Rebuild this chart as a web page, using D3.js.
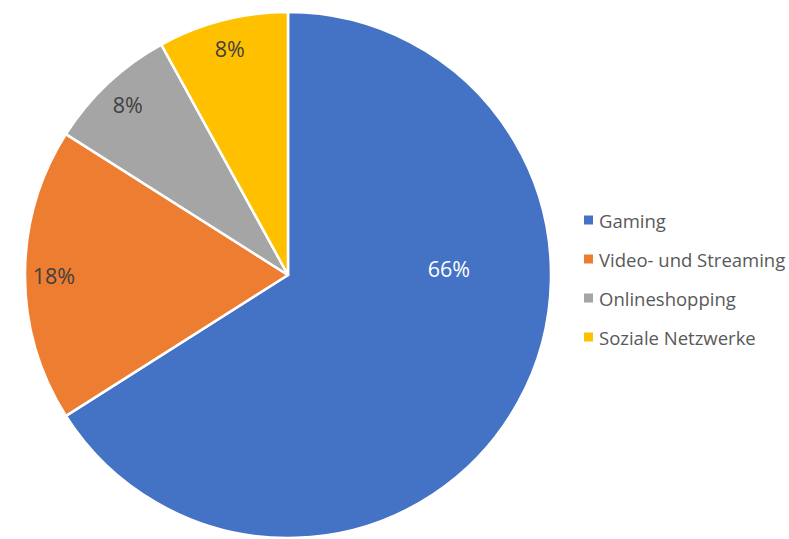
<!DOCTYPE html>
<html>
<head>
<meta charset="utf-8">
<script src="https://cdn.jsdelivr.net/npm/d3@7"></script>
<style>
  body { margin: 0; background: #fff; }
  svg { display: block; font-family: "Open Sans", "Liberation Sans", sans-serif; }
</style>
</head>
<body>
<svg id="chart" width="789" height="539"></svg>
<script>
const categories = ["Gaming", "Video- und Streaming", "Onlineshopping", "Soziale Netzwerke"];
const values = [66, 18, 8, 8];
const labels = ["66%", "18%", "8%", "8%"];
const colors = ["#4472C4", "#ED7D31", "#A5A5A5", "#FFC000"];

const svg = d3.select("#chart");
const cx = 288, cy = 275, radius = 263;

const pie = d3.pie().sort(null).value(d => d.value);
const arcs = pie(categories.map((c, i) => ({ name: c, value: values[i], i })));

const arc = d3.arc().innerRadius(0).outerRadius(radius);

const g = svg.append("g").attr("transform", `translate(${cx},${cy})`);

g.selectAll("path")
  .data(arcs)
  .enter().append("path")
  .attr("d", arc)
  .attr("fill", d => colors[d.data.i])
  .attr("stroke", "#fff")
  .attr("stroke-width", 2.5)
  .attr("stroke-linejoin", "round");

// Beschriftung: kleine Segmente am Rand innen, großes Segment wie Excel "beste Anpassung"
function labelPos(d) {
  if (d.data.i === 0) {
    const a = Math.PI * 0.487;
    const r = radius * 0.612;
    return [Math.sin(a) * r, -Math.cos(a) * r];
  }
  const a = (d.startAngle + d.endAngle) / 2;
  const r = radius * 0.89;
  return [Math.sin(a) * r, -Math.cos(a) * r];
}

g.selectAll("text.label")
  .data(arcs)
  .enter().append("text")
  .attr("class", "label")
  .attr("x", d => labelPos(d)[0])
  .attr("y", d => labelPos(d)[1])
  .attr("text-anchor", "middle")
  .attr("dominant-baseline", "central")
  .attr("font-size", 21.5)
  .attr("fill", d => d.data.i === 0 ? "#fff" : "#404040")
  .text(d => labels[d.data.i]);

// Legende
const legend = svg.append("g").attr("transform", "translate(584,220)");
const item = legend.selectAll("g")
  .data(categories)
  .enter().append("g")
  .attr("transform", (d, i) => `translate(0,${i * 39})`);

item.append("rect")
  .attr("x", 0).attr("y", -4.5)
  .attr("width", 9).attr("height", 9)
  .attr("fill", (d, i) => colors[i]);

item.append("text")
  .attr("x", 15)
  .attr("y", 0)
  .attr("dominant-baseline", "central")
  .attr("font-size", 18.5)
  .attr("fill", "#595959")
  .text(d => d);
</script>
</body>
</html>
